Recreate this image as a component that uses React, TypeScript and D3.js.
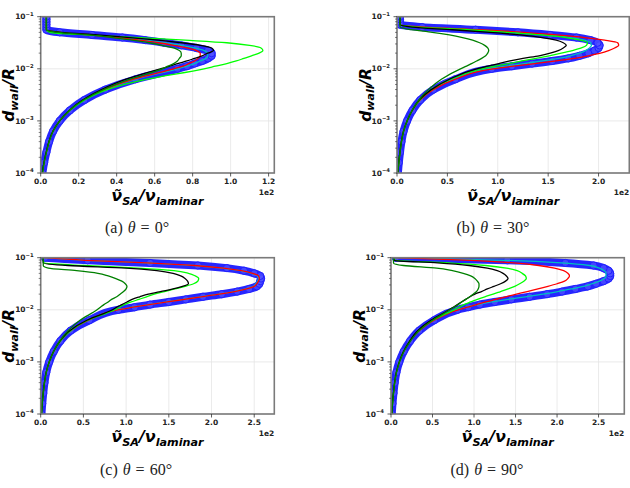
import React from 'react';
import * as d3 from 'd3';

// wall distance d_wall/R (shared sampling of every profile)
const yGrid = [1e-4, 1.585e-4, 2.512e-4, 3.981e-4, 6.31e-4, 1e-3, 1.585e-3, 2.512e-3, 3.981e-3, 6.31e-3,
  0.01, 0.01122, 0.01259, 0.01413, 0.01585, 0.01778, 0.01995, 0.02239, 0.02512, 0.02818, 0.03162,
  0.03548, 0.03981, 0.04467, 0.05012, 0.05623, 0.0631, 0.07079, 0.07943, 0.08913, 0.1];

// (a) theta = 0
const blueA = [0.9,1.8,3,4.4,6.5,10,15.3,23,34,50,72,77,81,85,88,90,90,88,82,74,65,55,43,27,10,3,3,3,3,3,3];
const cyanA = [0.9,1.8,3,4.4,6.5,10,15.2,23,34,50,72,77,81,84,87,88,88,86,81,74,65,55,43,27,10,3,3,3,3,3,3];
const redA = [0.9,1.8,3,4.4,6.5,10,15.2,22.5,33.5,49,70,75,78,81,83,84,84,82,77,70,62,52,41,26,10,3,3,3,3,3,3];
const limeA = [0.9,1.8,3,4.4,6.5,10,15.3,23,35,56,86,92,98,103,107,111,115,117,116,110,98,76,52,24,5,3,3,3,3,3,3];
const blackA = [0.8,1.7,2.9,4.3,6.4,10,15,22,32,45,63,68,72,77,81,85,88,91,90,84,74,62,47,30,11,3,3,3,3,3,3];
const greenA = [0.9,1.8,3,4.4,6.5,10,15,22.5,33,47,64,67,70,72,73,74,74,73,70,64,57,48,38,25,9,3,3,3,3,3,3];

// (b) theta = 30
const blueB = [0.9,1.8,3,4.4,6.5,10,15.3,23,36,58,94,114,134,154,170,181,190,196,200,201,199,192,178,152,120,78,25,3,3,3,3];
const cyanB = [0.9,1.8,3,4.4,6.5,10,15.2,23,35,56,90,108,126,144,160,172,181,187,191,193,192,186,172,148,117,76,24,3,3,3,3];
const redB = [0.9,1.8,3,4.4,6.5,10,15.3,23,36,58,95,116,137,158,176,190,202,210,216,220,219,206,186,158,126,82,28,3,3,3,3];
const limeB = [0.9,1.8,3,4.4,6.5,10,15.2,22.5,34,53,84,97,111,124,138,151,163,174,183,188,189,182,168,142,110,70,21,3,3,3,3];
const blackB = [0.8,1.7,2.9,4.3,6.4,10,15,22,34,52,79,90,101,112,125,141,152,160,165,168,165,158,144,122,92,55,15,3,3,3,3];
const greenB = [0.9,1.8,3,4.4,6.5,10,14.8,21.5,31,44,63,69,74,79,84,88,90,91,90,87,82,75,65,52,35,14,3,3,3,3,3];

// (c) theta = 60
const blueC = [0.9,1.8,3,4.4,6.5,10,15.3,23,35,57,91,110,128,150,170,190,212,230,244,253,256,257,258,257,250,238,218,184,128,55,5];
const cyanC = [0.9,1.8,3,4.4,6.5,10,15.2,23,35,56,89,107,126,147,167,187,208,226,240,249,252,254,255,254,247,234,213,179,123,51,4];
const redC = [0.9,1.8,3,4.4,6.5,10,15.2,23,35,56,90,108,127,148,168,188,209,227,241,250,253,255,256,255,248,235,214,180,124,52,4];
const limeC = [0.9,1.8,3,4.4,6.5,10,15.2,23,35,55,87,92,98,106,115,124,133,145,157,169,179,184,185,181,173,156,114,50,4,3,3];
const blackC = [0.8,1.7,2.9,4.3,6.4,10,15,22.5,34,54,84,89,95,101,107,116,126,140,155,166,173,172,169,164,155,136,100,32,3,3,3];
const greenC = [0.9,1.8,3,4.4,6.5,10,15,22,32,46,66,70,74,79,83,89,93,97,100,101,99,95,88,79,67,42,9,3,3,3,3];

// (d) theta = 90
const blueD = [0.9,1.8,3,4.4,6.5,10,15.3,23,34,52,80,93,107,125,145,167,188,206,222,237,247,256,262,264,264,262,256,244,210,140,6];
const cyanD = [0.9,1.8,3,4.4,6.5,10,15.2,23,34,52,79,91,104,121,141,162,183,201,217,232,242,251,257,259,259,257,251,239,205,135,5];
const redD = [0.9,1.8,3,4.4,6.5,10,15.3,23,34,52,81,92,103,114,126,138,151,164,177,189,200,209,213,215,213,208,197,178,148,97,5];
const limeD = [0.9,1.8,3,4.4,6.5,10,15.2,22.5,33,50,76,82,88,96,104,113,123,132,141,149,155,160,163,162,158,152,139,114,69,5,3];
const blackD = [0.8,1.7,2.9,4.3,6.4,10,15,22.5,32,48,70,75,80,85,90,95,101,109,116,124,132,138,141,139,135,128,116,94,56,4,3];
const greenD = [0.9,1.8,3,4.4,6.6,10.3,15.5,23.5,34,50,71,76,81,85,90,95,99,103,105,106,106,104,101,96,87,74,55,15,3,3,3];

const xTicksA = [0, 20, 40, 60, 80, 100, 120];
const xTickLabelsA = ['0.0', '0.2', '0.4', '0.6', '0.8', '1.0', '1.2'];
const xTicksBCD = [0, 50, 100, 150, 200, 250];
const xTickLabelsBCD = ['0.0', '0.5', '1.0', '1.5', '2.0', '2.5'];
const yTicks = [1e-4, 1e-3, 1e-2, 1e-1];
const yTickExp = ['−4', '−3', '−2', '−1'];
const captions = ['(a)', '(b)', '(c)', '(d)'];
const angles = ['0°', '30°', '60°', '90°'];

const SERIES_STYLE: Record<string, string> = {
  blue: '#0000ff', cyan: '#00bfbf', red: '#ff0000', lime: '#00ff00', black: '#000000', green: '#008000',
};

const panelData = [
  { blue: blueA, cyan: cyanA, red: redA, lime: limeA, black: blackA, green: greenA },
  { blue: blueB, cyan: cyanB, red: redB, lime: limeB, black: blackB, green: greenB },
  { blue: blueC, cyan: cyanC, red: redC, lime: limeC, black: blackC, green: greenC },
  { blue: blueD, cyan: cyanD, red: redD, lime: limeD, black: blackD, green: greenD },
];

const LAYOUT = [
  { left: 40.7, right: 274.3, top: 16.7, bottom: 173, xMax: 123, ticks: xTicksA, labels: xTickLabelsA, capX: 137, capY: 233 },
  { left: 397, right: 629.3, top: 16.7, bottom: 173, xMax: 230.5, ticks: xTicksBCD.slice(0, 5), labels: xTickLabelsBCD.slice(0, 5), capX: 493, capY: 233 },
  { left: 40.7, right: 274.3, top: 257.7, bottom: 414, xMax: 273.5, ticks: xTicksBCD, labels: xTickLabelsBCD, capX: 136, capY: 475 },
  { left: 391, right: 624.3, top: 257.7, bottom: 414, xMax: 281, ticks: xTicksBCD, labels: xTickLabelsBCD, capX: 487, capY: 475 },
];

const SANS = 'DejaVu Sans';

function Panel({ idx }: { idx: number }) {
  const L = LAYOUT[idx];
  const data = panelData[idx] as Record<string, number[]>;
  const x = d3.scaleLinear().domain([0, L.xMax]).range([L.left, L.right]);
  const y = d3.scaleLog().domain([1e-4, 1e-1]).range([L.bottom, L.top]);
  const line = d3.line<[number, number]>()
    .x((d) => x(d[0]))
    .y((d) => y(d[1]))
    .curve(d3.curveMonotoneY);
  const pts = (arr: number[]) => arr.map((v, i) => [v, yGrid[i]] as [number, number]);
  const minor: number[] = [];
  for (let e = -4; e < -1; e++) for (let m = 2; m <= 9; m++) minor.push(m * Math.pow(10, e));
  const clipId = `clip${idx}`;
  const cx = (L.left + L.right) / 2;
  const cy = (L.top + L.bottom) / 2;
  const order = ['cyan', 'red', 'lime', 'black', 'green'];
  return (
    <g>
      <defs>
        <clipPath id={clipId}>
          <rect x={L.left} y={L.top} width={L.right - L.left} height={L.bottom - L.top} />
        </clipPath>
      </defs>
      {L.ticks.map((t) => (
        <line key={'gx' + t} x1={x(t)} x2={x(t)} y1={L.top} y2={L.bottom} stroke="#e4e4e4" strokeWidth={0.8} />
      ))}
      {yTicks.map((t) => (
        <line key={'gy' + t} x1={L.left} x2={L.right} y1={y(t)} y2={y(t)} stroke="#e4e4e4" strokeWidth={0.8} />
      ))}
      <g clipPath={`url(#${clipId})`}>
        <path d={line(pts(data.blue)) || ''} fill="none" stroke="#1a1aff" strokeWidth={8} strokeLinejoin="round" strokeLinecap="round" opacity={0.95} />
        {pts(data.blue).map((p, i) => (
          <circle key={'m' + i} cx={x(p[0])} cy={y(p[1])} r={3.6} fill="#5a5aff" fillOpacity={0.6} stroke="#2020ff" strokeWidth={1} />
        ))}
        {order.map((k) => (
          <path key={k} d={line(pts(data[k])) || ''} fill="none" stroke={SERIES_STYLE[k]} strokeWidth={1.3} />
        ))}
      </g>
      <rect x={L.left} y={L.top} width={L.right - L.left} height={L.bottom - L.top} fill="none" stroke="#7a7a7a" strokeWidth={1.6} />
      {L.ticks.map((t, i) => (
        <g key={'xt' + t}>
          <line x1={x(t)} x2={x(t)} y1={L.bottom} y2={L.bottom + 3.5} stroke="#333" strokeWidth={0.8} />
          <text x={x(t)} y={L.bottom + 11} textAnchor="middle" fontFamily={SANS} fontWeight="bold" fontSize={7.5} fill="#222">{L.labels[i]}</text>
        </g>
      ))}
      <text x={L.right} y={L.bottom + 21.5} textAnchor="end" fontFamily={SANS} fontWeight="bold" fontSize={7.5} fill="#222">1e2</text>
      {yTicks.map((t, i) => (
        <g key={'yt' + t}>
          <line x1={L.left - 3.5} x2={L.left} y1={y(t)} y2={y(t)} stroke="#333" strokeWidth={0.8} />
          <text x={L.left - 7} y={y(t) + 2.6} textAnchor="end" fontFamily={SANS} fontWeight="bold" fontSize={7.5} fill="#222">
            10<tspan dy={-3.2} fontSize={5.3}>{yTickExp[i]}</tspan>
          </text>
        </g>
      ))}
      {minor.map((t) => (
        <line key={'mn' + t} x1={L.left - 2} x2={L.left} y1={y(t)} y2={y(t)} stroke="#333" strokeWidth={0.6} />
      ))}
      <text x={cx} y={L.bottom + 28} textAnchor="middle" fontFamily={SANS} fontWeight="bold" fontStyle="italic" fontSize={16} fill="#000">
        {'ν\u0303'}<tspan dy={3.5} fontSize={11.2}>SA</tspan><tspan dy={-3.5}>/ν</tspan><tspan dy={3.5} fontSize={11.2}>laminar</tspan>
      </text>
      <text transform={`translate(${L.left - 26.5},${cy}) rotate(-90)`} textAnchor="middle" fontFamily={SANS} fontWeight="bold" fontStyle="italic" fontSize={15.5} fill="#000">
        d<tspan dy={3.5} fontSize={11}>wall</tspan><tspan dy={-3.5}>/R</tspan>
      </text>
      <text x={L.capX} y={L.capY} textAnchor="middle" fontFamily="Liberation Serif" fontSize={16} fill="#222" wordSpacing={1}>
        {captions[idx]} <tspan fontStyle="italic">θ</tspan> = {angles[idx]}
      </text>
    </g>
  );
}

export default function App() {
  return (
    <svg width={630} height={488} style={{ position: 'absolute', left: 0, top: 0, background: '#fff' }}>
      <rect x={0} y={0} width={630} height={488} fill="#fff" />
      {[0, 1, 2, 3].map((i) => <Panel key={i} idx={i} />)}
    </svg>
  );
}
